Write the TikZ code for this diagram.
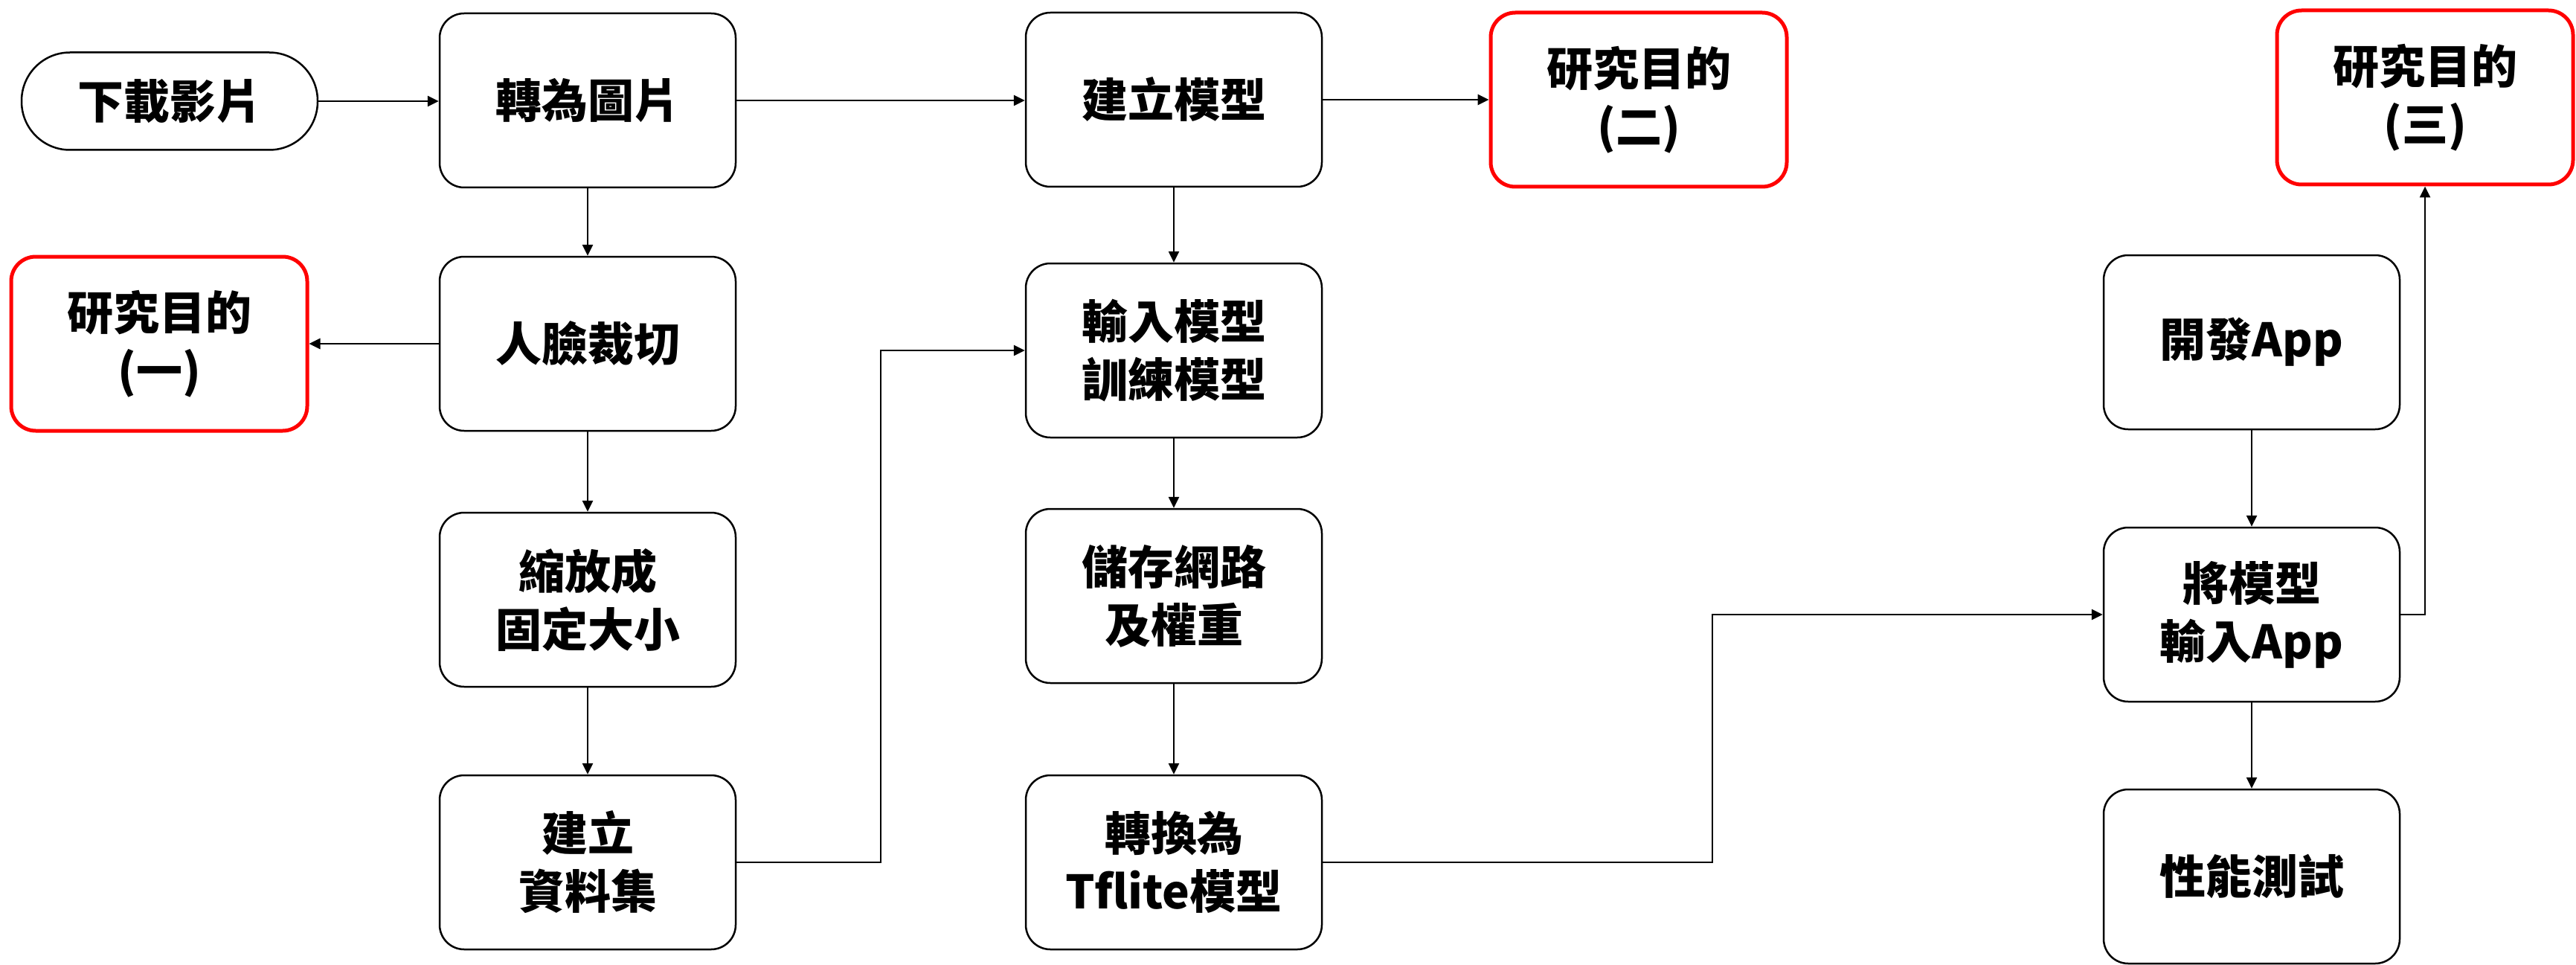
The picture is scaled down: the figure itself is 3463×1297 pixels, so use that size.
\documentclass[tikz,border=0pt]{standalone}
\usepackage{fontspec}
\setmainfont{Noto Sans CJK TC}
\usetikzlibrary{arrows.meta}
\begin{document}
\begin{tikzpicture}[x=1pt,y=-1pt,
  box/.style={draw, line width=2.5pt, rounded corners=33pt, minimum width=398pt, minimum height=234pt,
    align=center, inner sep=0pt, font=\fontsize{62}{78}\selectfont\bfseries},
  goal/.style={box, draw=red, line width=5pt},
  startbox/.style={box, rounded corners=65pt, minimum height=131pt},
  arr/.style={line width=2.7pt, -{Triangle[length=15pt,width=14pt]}}
]
\useasboundingbox (0,0) rectangle (3463,1297);
\fill[white] (0,0) rectangle (3463,1297);

\node[startbox] (dl) at (228,136) {下載影片};
\node[box] (img) at (790,135) {轉為圖片};
\node[box] (face) at (790,462) {人臉裁切};
\node[box] (scl) at (790,806) {縮放成\\固定大小};
\node[box] (ds) at (790,1159) {建立\\資料集};
\node[goal] (g1) at (214,462) {研究目的\\(一)};

\node[box] (model) at (1578,134) {建立模型};
\node[box] (train) at (1578,471) {輸入模型\\訓練模型};
\node[box] (save) at (1578,801) {儲存網路\\及權重};
\node[box] (conv) at (1578,1159) {轉換為\\Tflite模型};
\node[goal] (g2) at (2203,134) {研究目的\\(二)};

\node[box] (app) at (3027,460) {開發App};
\node[box] (put) at (3027,826) {將模型\\輸入App};
\node[box] (test) at (3027,1178) {性能測試};
\node[goal] (g3) at (3260,131) {研究目的\\(三)};

\coordinate (j1) at (1184,0);
\coordinate (j2) at (2302,0);

\draw[arr] (dl.east) -- (dl.east -| img.west);
\draw[arr] (img.east) -- (img.east -| model.west);
\draw[arr] (model.east) -- (model.east -| g2.west);
\draw[arr] (img) -- (face);
\draw[arr] (face.west) -- (face.west -| g1.east);
\draw[arr] (face) -- (scl);
\draw[arr] (scl) -- (ds);
\draw[arr] (ds.east) -- (ds.east -| j1) -- (j1 |- train.west) -- (train.west);
\draw[arr] (model) -- (train);
\draw[arr] (train) -- (save);
\draw[arr] (save) -- (conv);
\draw[arr] (conv.east) -- (conv.east -| j2) -- (j2 |- put.west) -- (put.west);
\draw[arr] (app) -- (put);
\draw[arr] (put) -- (test);
\draw[arr] (put.east) -| (g3.south);
\end{tikzpicture}
\end{document}
